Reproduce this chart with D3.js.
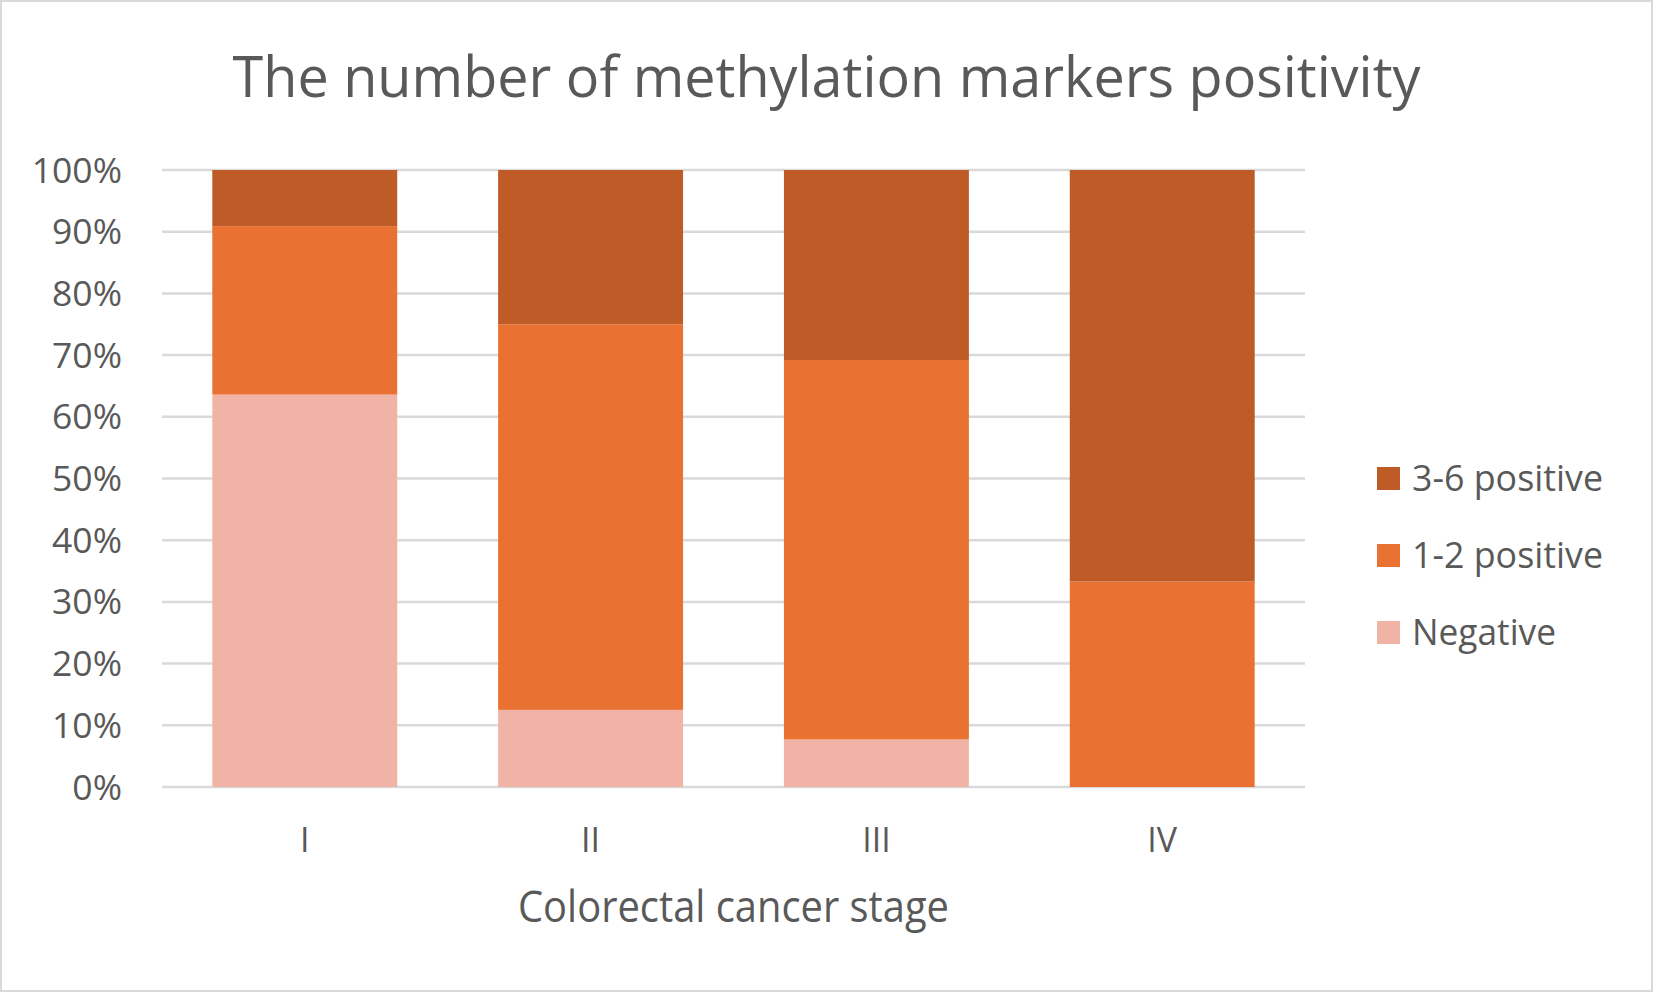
<!DOCTYPE html>
<html>
<head>
<meta charset="utf-8">
<script src="https://cdn.jsdelivr.net/npm/d3@7"></script>
<style>
  body { margin: 0; background: white; }
  text { font-family: 'Open Sans', 'Noto Sans', sans-serif; fill: #595959; }
</style>
</head>
<body>
<script>
'use strict'

let stages = ['I', 'II', 'III', 'IV']
let negative = [63.6, 12.5, 7.7, 0]
let pos12 = [27.3, 62.5, 61.5, 33.3]
let pos36 = [9.1, 25.0, 30.8, 66.7]
let yTicks = [0, 10, 20, 30, 40, 50, 60, 70, 80, 90, 100]
let seriesNames = ['Negative', '1-2 positive', '3-6 positive']
let colors = ['#f1b3a5', '#e97132', '#bf5b26']

let width = 1653,
    height = 992

let svg = d3.select('body').append('svg')
    .attr('width', width)
    .attr('height', height)

// chart border
svg.append('rect')
    .attr('x', 1).attr('y', 1)
    .attr('width', width - 2).attr('height', height - 2)
    .attr('fill', 'white')
    .attr('stroke', '#d9d9d9')
    .attr('stroke-width', 2)

let x = d3.scaleBand()
    .domain(stages)
    .range([162, 1305])
    .paddingInner(0.353)
    .paddingOuter(0.176)

let y = d3.scaleLinear()
    .domain([0, 100])
    .range([787, 170])

// gridlines
svg.selectAll('.grid').data(yTicks).enter()
    .append('line')
    .attr('class', 'grid')
    .attr('x1', x.range()[0])
    .attr('x2', x.range()[1])
    .attr('y1', d => y(d))
    .attr('y2', d => y(d))
    .attr('stroke', '#d9d9d9')
    .attr('stroke-width', 2.5)

// y labels
svg.selectAll('.ylab').data(yTicks).enter()
    .append('text')
    .attr('class', 'ylab')
    .attr('x', 122)
    .attr('y', d => y(d) + 12.5)
    .attr('text-anchor', 'end')
    .style('font-size', '35.5px')
    .text(d => d + '%')

// stacked bars
let rows = stages.map((s, i) => ({stage: s, Negative: negative[i], '1-2 positive': pos12[i], '3-6 positive': pos36[i]}))
let stacked = d3.stack().keys(seriesNames)(rows)

svg.selectAll('.series').data(stacked).enter()
    .append('g')
    .attr('class', 'series')
    .attr('fill', (d, i) => colors[i])
    .selectAll('rect').data(d => d).enter()
    .append('rect')
    .attr('x', d => x(d.data.stage))
    .attr('width', x.bandwidth())
    .attr('y', d => y(d[1]))
    .attr('height', d => y(d[0]) - y(d[1]))

// x labels
svg.selectAll('.xlab').data(stages).enter()
    .append('text')
    .attr('class', 'xlab')
    .attr('x', d => x(d) + x.bandwidth() / 2)
    .attr('y', 852)
    .attr('text-anchor', 'middle')
    .style('font-size', '34px')
    .text(d => d)

// axis title
svg.append('text')
    .attr('x', (x.range()[0] + x.range()[1]) / 2)
    .attr('y', 921.5)
    .attr('text-anchor', 'middle')
    .attr('textLength', 431)
    .attr('lengthAdjust', 'spacingAndGlyphs')
    .style('font-size', '43px')
    .text('Colorectal cancer stage')

// title
svg.append('text')
    .attr('x', width / 2)
    .attr('y', 97)
    .attr('text-anchor', 'middle')
    .attr('textLength', 1188)
    .attr('lengthAdjust', 'spacingAndGlyphs')
    .style('font-size', '56px')
    .text('The number of methylation markers positivity')

// legend (top-down: 3-6, 1-2, Negative)
let legendItems = seriesNames.map((n, i) => ({name: n, color: colors[i]})).reverse()
let legendWidths = [191, 191, 144]
let legend = svg.selectAll('.legend').data(legendItems).enter()
    .append('g')
    .attr('class', 'legend')
    .attr('transform', (d, i) => 'translate(1377,' + (467 + i * 77) + ')')

legend.append('rect')
    .attr('width', 23)
    .attr('height', 23)
    .attr('fill', d => d.color)

legend.append('text')
    .attr('x', 35)
    .attr('y', 23.5)
    .attr('textLength', (d, i) => legendWidths[i])
    .attr('lengthAdjust', 'spacingAndGlyphs')
    .style('font-size', '36px')
    .text(d => d.name)
</script>
</body>
</html>
